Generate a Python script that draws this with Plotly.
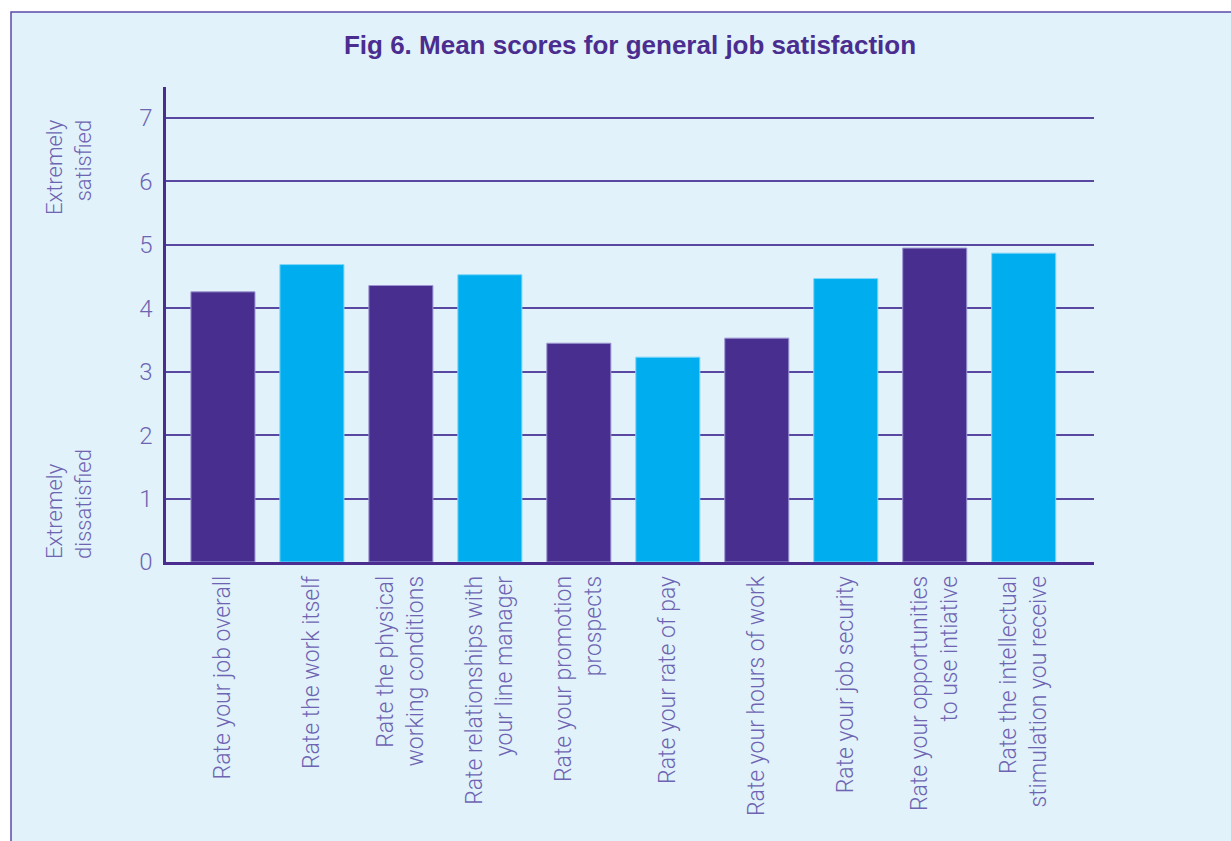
import plotly.graph_objects as go

# Survey items (x categories) and their mean satisfaction scores (1-7 scale)
items = [
    "Rate your job overall",
    "Rate the work itself",
    "Rate the physical<br>working conditions",
    "Rate relationships with<br>your line manager",
    "Rate your promotion<br>prospects",
    "Rate your rate of pay",
    "Rate your hours of work",
    "Rate your job security",
    "Rate your opportunities<br>to use intiative",
    "Rate the intellectual<br>stimulation you receive",
]
mean_scores = [4.26, 4.69, 4.36, 4.53, 3.45, 3.23, 3.53, 4.47, 4.95, 4.87]
y_ticks = [0, 1, 2, 3, 4, 5, 6, 7]

PURPLE = "#482E8F"
CYAN = "#00AEEF"
TEXT = "#6E64B2"
FONT = "Roboto"

bar_colors = [PURPLE if i % 2 == 0 else CYAN for i in range(len(items))]
edge_colors = ["#9d96d2" if i % 2 == 0 else "#7fd6f6" for i in range(len(items))]

fig = go.Figure(
    go.Bar(
        x=items,
        y=mean_scores,
        width=0.72,
        marker=dict(color=bar_colors, line=dict(color=edge_colors, width=1)),
        hoverinfo="x+y",
    )
)

W, H = 1231, 841
L, R, T, B = 166, 137, 87, 279
plot_w, plot_h = W - L - R, H - T - B


def px_x(x):
    return (x - L) / plot_w


def px_y(y):
    return (H - B - y) / plot_h


fig.update_layout(
    width=W,
    height=H,
    margin=dict(l=L, r=R, t=T, b=B),
    paper_bgcolor="white",
    plot_bgcolor="rgba(0,0,0,0)",
    showlegend=False,
    title=dict(
        text="<b>Fig 6. Mean scores for general job satisfaction</b>",
        x=0.5,
        xref="paper",
        xanchor="center",
        y=1 - 45 / H,
        yanchor="middle",
        font=dict(family="Liberation Sans, Arial, sans-serif", size=26, color="#4A2D8F"),
    ),
    xaxis=dict(
        type="category",
        range=[-0.64, 9.79],
        tickangle=-90,
        tickfont=dict(family=FONT, size=23, color=TEXT, weight=300),
        showline=True,
        linecolor="#4A2D8F",
        linewidth=2.5,
        ticks="",
        showgrid=False,
        ticklabelstandoff=2,
    ),
    yaxis=dict(
        range=[0, 7.49],
        tickvals=y_ticks,
        tickfont=dict(family=FONT, size=24, color=TEXT, weight=300),
        showline=True,
        linecolor="#4A2D8F",
        linewidth=2.5,
        showgrid=True,
        gridcolor="#5848A2",
        gridwidth=1.5,
        zeroline=False,
        ticks="",
        ticklabelstandoff=6,
    ),
    shapes=[
        dict(
            type="rect",
            xref="paper",
            yref="paper",
            x0=px_x(11),
            x1=px_x(W + 20),
            y0=px_y(H + 20),
            y1=px_y(12),
            fillcolor="#E1F2FA",
            line=dict(color="#5A4AA6", width=1.5),
            layer="below",
        )
    ],
    annotations=[
        dict(
            text="Extremely<br>satisfied",
            xref="paper",
            yref="paper",
            x=px_x(69),
            y=px_y(117),
            xanchor="center",
            yanchor="top",
            textangle=-90,
            align="right",
            showarrow=False,
            font=dict(family=FONT, size=22, color=TEXT, weight=300),
        ),
        dict(
            text="Extremely<br>dissatisfied",
            xref="paper",
            yref="paper",
            x=px_x(69),
            y=px_y(561),
            xanchor="center",
            yanchor="bottom",
            textangle=-90,
            align="left",
            showarrow=False,
            font=dict(family=FONT, size=22, color=TEXT, weight=300),
        ),
    ],
)

fig.write_html("out.html")
